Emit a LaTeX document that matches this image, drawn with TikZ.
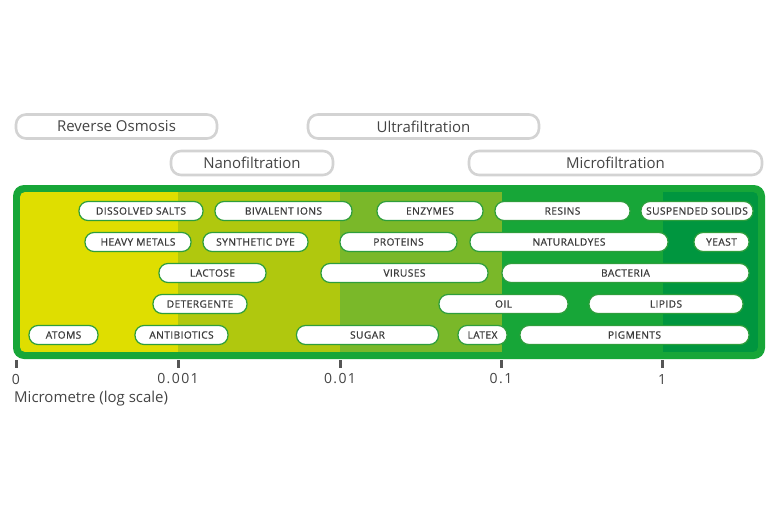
\documentclass[tikz,border=0pt]{standalone}
\usepackage{fontspec}
\setmainfont{Open Sans}
\newfontfamily\pillfont[LetterSpace=4,FakeBold=0.8]{Open Sans}
\newfontfamily\tickfont[LetterSpace=10]{Open Sans}
\definecolor{bandA}{HTML}{DFDE00}
\definecolor{bandB}{HTML}{B0C80E}
\definecolor{bandC}{HTML}{7AB829}
\definecolor{bandD}{HTML}{17A638}
\definecolor{bandE}{HTML}{00963F}
\definecolor{frameG}{HTML}{17A638}
\definecolor{pillEdge}{HTML}{2E9E3C}
\definecolor{procEdge}{HTML}{D3D3D3}
\definecolor{txtG}{HTML}{444444}
\definecolor{pillTxt}{HTML}{3C3C3C}
\definecolor{tickG}{HTML}{555555}
\tikzset{
  pill/.style={draw=pillEdge, line width=1.2pt, fill=white, rounded corners=9pt,
    minimum height=19pt, inner sep=0pt, font=\pillfont\fontsize{10.2}{11}\selectfont, text=pillTxt},
  proc/.style={draw=procEdge, line width=2.6pt, fill=white, rounded corners=10pt,
    minimum height=24pt, inner sep=0pt, font=\fontsize{15}{17}\selectfont, text=txtG},
  ticklbl/.style={font=\tickfont\fontsize{14}{16}\selectfont, text=txtG, inner sep=0pt},
  tickmark/.style={draw=tickG, line width=3pt}
}
\begin{document}
\begin{tikzpicture}[x=1pt,y=-1pt]
\useasboundingbox (0,0) rectangle (780,520);
% frame
\fill[frameG, rounded corners=11pt] (13,185) rectangle (765,359);
\begin{scope}
\clip[rounded corners=5pt] (20,192) rectangle (758,352);
\fill[bandA] (20,192) rectangle (178,352);
\fill[bandB] (178,192) rectangle (340,352);
\fill[bandC] (340,192) rectangle (502,352);
\fill[bandD] (502,192) rectangle (663,352);
\fill[bandE] (663,192) rectangle (758,352);
\end{scope}
% process boxes
\node[proc, minimum width=201pt] (ro) at (116.5,126.5) {Reverse Osmosis};
\node[proc, minimum width=231pt] (uf) at (423.5,126.5) {Ultrafiltration};
\node[proc, minimum width=162pt] (nf) at (252,163) {Nanofiltration};
\node[proc, minimum width=293pt] (mf) at (615.5,163) {Microfiltration};
% row 1
\node[pill, minimum width=124pt] (dsalts) at (141,211) {DISSOLVED SALTS};
\node[pill, minimum width=137pt] (bival) at (283.5,211) {BIVALENT IONS};
\node[pill, minimum width=106pt] (enz) at (430,211) {ENZYMES};
\node[pill, minimum width=135pt] (resins) at (562.5,211) {RESINS};
\node[pill, minimum width=112pt] (susp) at (697,211) {SUSPENDED SOLIDS};
% row 2
\node[pill, minimum width=106pt] (heavy) at (138,242) {HEAVY METALS};
\node[pill, minimum width=105pt] (synth) at (255.5,242) {SYNTHETIC DYE};
\node[pill, minimum width=117pt] (prot) at (398.5,242) {PROTEINS};
\node[pill, minimum width=198pt] (natd) at (569,242) {NATURALDYES};
\node[pill, minimum width=55pt] (yeast) at (721.5,242) {YEAST};
% row 3
\node[pill, minimum width=107pt] (lact) at (212.5,273) {LACTOSE};
\node[pill, minimum width=167pt] (vir) at (404.5,273) {VIRUSES};
\node[pill, minimum width=247pt] (bact) at (625.5,273) {BACTERIA};
% row 4
\node[pill, minimum width=94pt] (deter) at (200,304) {DETERGENTE};
\node[pill, minimum width=129pt] (oil) at (503.5,304) {OIL};
\node[pill, minimum width=154pt] (lip) at (666,304) {LIPIDS};
% row 5
\node[pill, minimum width=69pt] (atoms) at (63.5,335) {ATOMS};
\node[pill, minimum width=93pt] (anti) at (181.5,335) {ANTIBIOTICS};
\node[pill, minimum width=142pt] (sugar) at (367.5,335) {SUGAR};
\node[pill, minimum width=49pt] (latex) at (482.5,335) {LATEX};
\node[pill, minimum width=229pt] (pigm) at (634.5,335) {PIGMENTS};
% axis ticks
\foreach \nm/\xx/\lb in {t0/16/0, t1/178/0.001, t2/340/0.01, t3/501/0.1, t4/662/1}{
  \draw[tickmark] (\xx,360) -- (\xx,368);
  \node[ticklbl] (\nm) at (\xx,379) {\lb};
}
\node[font=\fontsize{15}{17}\selectfont, text=txtG, anchor=west, inner sep=0pt] (unit) at (14,399) {Micrometre (log scale)};
\end{tikzpicture}
\end{document}
